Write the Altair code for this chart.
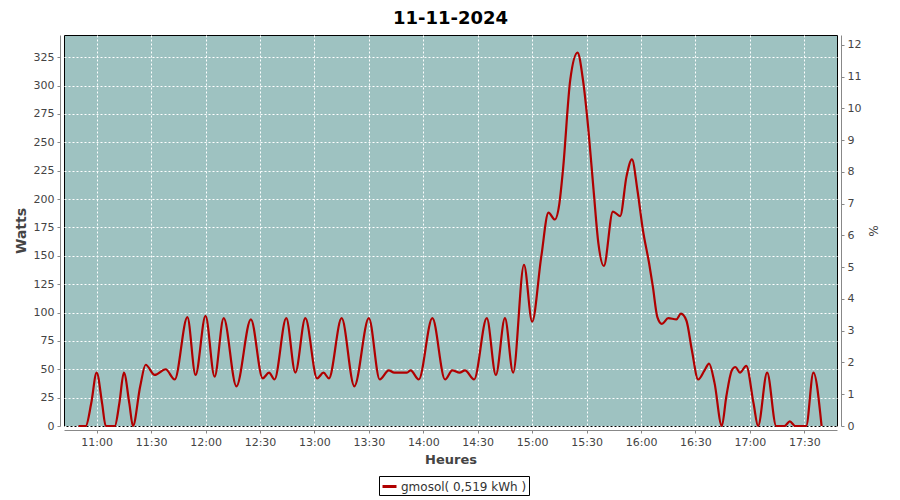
import altair as alt
import pandas as pd

times = ["10:50", "10:54", "10:57", "11:00", "11:03", "11:05", "11:10", "11:12:30", "11:15", "11:18",
         "11:20", "11:24", "11:27", "11:32", "11:38", "11:43", "11:50", "11:54:30", "12:00", "12:05",
         "12:10", "12:17", "12:25", "12:31:30", "12:35", "12:38", "12:44:30", "12:49:30", "12:55", "13:01:30",
         "13:05", "13:08", "13:15", "13:22", "13:30", "13:36", "13:41", "13:44", "13:51", "13:53",
         "13:57:30", "14:05", "14:12", "14:16", "14:20", "14:23", "14:28", "14:35", "14:40", "14:45",
         "14:49:30", "14:55:30", "15:00", "15:05", "15:09", "15:12:30", "15:15", "15:17", "15:21", "15:25",
         "15:28", "15:31", "15:34", "15:36:30", "15:39:30", "15:44:30", "15:48:30", "15:52", "15:55", "15:58",
         "16:01", "16:04:30", "16:06:30", "16:09", "16:11:30", "16:15", "16:19:30", "16:22", "16:25", "16:28",
         "16:31:30", "16:35", "16:37:30", "16:40:30", "16:44:30", "16:47", "16:50", "16:52", "16:54:30", "16:58",
         "17:02", "17:04:30", "17:09:30", "17:14:30", "17:19", "17:22", "17:25", "17:31", "17:35", "17:39:30"]
watts = [0, 0, 20, 47, 20, 0, 0, 20, 47, 20,
         0, 35, 54, 45, 50, 41, 96, 45, 97, 43.5,
         95, 35, 94, 42, 47, 41, 95, 47, 95, 42,
         47, 42, 95, 35, 95, 41, 49, 47, 47, 49,
         41, 95, 41, 49, 47, 49, 41, 95, 45, 95,
         47, 142, 92, 149, 188, 182, 196, 226, 305, 329,
         305, 261, 205, 161, 141, 189, 185, 220, 235, 208,
         173, 143, 123, 96, 90, 95, 94, 99, 93, 67,
         41, 49, 55, 38, 0, 26, 49, 52, 47, 53,
         20, 0, 47, 0, 0, 4, 0, 0, 47, 0]

series_name = "gmosol( 0,519 kWh )"
x_ticks = ["11:00", "11:30", "12:00", "12:30", "13:00", "13:30", "14:00", "14:30",
           "15:00", "15:30", "16:00", "16:30", "17:00", "17:30"]
y_ticks = [0, 25, 50, 75, 100, 125, 150, 175, 200, 225, 250, 275, 300, 325]
pct_ticks = list(range(0, 13))


def hm(t):
    parts = [int(p) for p in t.split(":")]
    if len(parts) == 2:
        parts.append(0)
    return alt.DateTime(year=2024, month=11, date=11, hours=parts[0], minutes=parts[1], seconds=parts[2])


df = pd.DataFrame({
    "t": ["2024-11-11T" + (t if t.count(":") == 2 else t + ":00") for t in times],
    "w": watts,
    "s": [series_name] * len(times),
})

font = "DejaVu Sans"
grey = "#444444"
axis_col = "#888888"

line = alt.Chart(df).mark_line(strokeWidth=2.2, interpolate="monotone").encode(
    x=alt.X("t:T",
            scale=alt.Scale(domain=[hm("10:42"), hm("17:48")], nice=False),
            axis=alt.Axis(title="Heures", values=[hm(t) for t in x_ticks], format="%H:%M",
                          offset=4, tickSize=3, labelPadding=3, titlePadding=6,
                          grid=True, gridColor="white", gridDash=[2, 2], gridWidth=1)),
    y=alt.Y("w:Q",
            scale=alt.Scale(domain=[0, 344.6], nice=False, zero=True),
            axis=alt.Axis(title="Watts", values=y_ticks, offset=4, tickSize=3, labelPadding=3,
                          titlePadding=5, titleFontSize=14,
                          grid=True, gridColor="white", gridDash=[2, 2], gridWidth=1)),
    color=alt.Color("s:N", scale=alt.Scale(domain=[series_name], range=["#b00000"]),
                    legend=alt.Legend(title=None, orient="none", legendX=315, legendY=441,
                                      strokeColor="black", fillColor="white", padding=2,
                                      symbolType="stroke", symbolStrokeWidth=3, symbolSize=196,
                                      labelFont=font, labelFontSize=12, labelColor="#333333",
                                      labelOffset=3)),
)

pct_df = pd.DataFrame({"p": [0, 12.31]})
right = alt.Chart(pct_df).mark_point(opacity=0).encode(
    y=alt.Y("p:Q", scale=alt.Scale(domain=[0, 12.31], nice=False),
            axis=alt.Axis(title="%", orient="right", values=pct_ticks, offset=4, tickSize=3,
                          labelPadding=3, titlePadding=5, titleFontWeight="normal", titleFontSize=12,
                          grid=False)),
)

chart = alt.layer(line, right).resolve_scale(y="independent").properties(
    width=773, height=391,
    autosize=alt.AutoSizeParams(type="none"),
    padding={"left": 56, "top": 27, "right": 55, "bottom": 73},
    title=alt.TitleParams("11-11-2024", font=font, fontSize=18, fontWeight="bold", color="black",
                          anchor="middle", offset=4),
    background="white",
).configure_view(
    fill="#9ec2c1", stroke="black", strokeWidth=1
).configure_axis(
    labelFont=font, labelFontSize=11, labelColor=grey,
    titleFont=font, titleFontSize=13, titleFontWeight="bold", titleColor=grey,
    domainColor=axis_col, tickColor=axis_col, domainWidth=1
)

chart.save("out.html", embed_options={"renderer": "svg", "actions": False})
